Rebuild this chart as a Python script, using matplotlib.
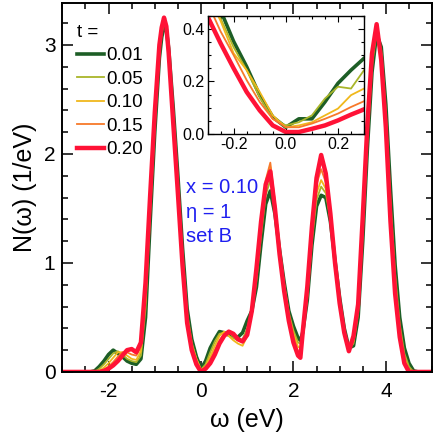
import numpy as np
import matplotlib
matplotlib.use('Agg')
import matplotlib.pyplot as plt

plt.rcParams['font.family'] = ['Liberation Sans', 'DejaVu Sans']
plt.rcParams['axes.unicode_minus'] = False

# energy grid (eV) for the main panel
omega = [-3.0, -2.4, -2.3, -2.2, -2.1, -2.0, -1.9, -1.8, -1.7, -1.6, -1.5, -1.4, -1.3, -1.2,
         -1.1, -1.0, -0.9, -0.85, -0.8, -0.75, -0.7, -0.6, -0.5, -0.4, -0.3, -0.2, -0.1,
         0.0, 0.1, 0.2, 0.3, 0.4, 0.5, 0.6, 0.7, 0.8, 0.9, 1.0, 1.1, 1.2, 1.3, 1.4, 1.5,
         1.6, 1.7, 1.8, 1.9, 2.0, 2.1, 2.15, 2.2, 2.3, 2.4, 2.5, 2.6, 2.7, 2.8, 2.9, 3.0,
         3.1, 3.2, 3.3, 3.4, 3.5, 3.6, 3.7, 3.8, 3.9, 4.0, 4.1, 4.2, 4.3, 4.4, 4.5, 4.6,
         4.7, 5.0]

# density of states N(w) for each t
dos_001 = [0.0, 0.0, 0.01, 0.05, 0.10, 0.16, 0.20, 0.17, 0.14, 0.10, 0.08, 0.07, 0.12, 0.50,
           1.38, 2.20, 2.88, 3.07, 3.17, 3.14, 2.97, 2.42, 1.80, 1.14, 0.58, 0.30, 0.14,
           0.03, 0.10, 0.22, 0.30, 0.37, 0.36, 0.34, 0.33, 0.32, 0.36, 0.47, 0.56, 0.78,
           1.18, 1.54, 1.66, 1.45, 1.12, 0.82, 0.56, 0.42, 0.31, 0.29, 0.36, 0.66, 1.16,
           1.52, 1.62, 1.60, 1.38, 1.02, 0.68, 0.40, 0.22, 0.24, 0.50, 1.20, 2.05, 2.75,
           3.10, 2.98, 2.45, 1.68, 0.98, 0.50, 0.22, 0.08, 0.01, 0.0, 0.0]
dos_005 = [0.0, 0.0, 0.0, 0.03, 0.07, 0.12, 0.17, 0.19, 0.16, 0.12, 0.10, 0.09, 0.15, 0.58,
           1.45, 2.26, 2.93, 3.11, 3.20, 3.15, 2.96, 2.38, 1.75, 1.08, 0.54, 0.27, 0.12,
           0.02, 0.07, 0.18, 0.28, 0.35, 0.36, 0.33, 0.31, 0.29, 0.30, 0.40, 0.55, 0.84,
           1.25, 1.62, 1.76, 1.50, 1.12, 0.80, 0.54, 0.38, 0.27, 0.26, 0.36, 0.68, 1.20,
           1.58, 1.70, 1.64, 1.40, 1.00, 0.66, 0.38, 0.21, 0.26, 0.54, 1.28, 2.12, 2.80,
           3.13, 2.95, 2.38, 1.58, 0.90, 0.44, 0.17, 0.05, 0.0, 0.0, 0.0]
dos_010 = [0.0, 0.0, 0.0, 0.01, 0.04, 0.08, 0.13, 0.18, 0.18, 0.15, 0.12, 0.11, 0.19, 0.66,
           1.52, 2.31, 2.97, 3.14, 3.22, 3.16, 2.95, 2.34, 1.70, 1.04, 0.50, 0.25, 0.12,
           0.02, 0.05, 0.14, 0.24, 0.33, 0.37, 0.33, 0.29, 0.26, 0.24, 0.33, 0.54, 0.88,
           1.32, 1.72, 1.88, 1.56, 1.14, 0.80, 0.52, 0.35, 0.23, 0.22, 0.34, 0.70, 1.24,
           1.64, 1.76, 1.68, 1.40, 0.99, 0.64, 0.36, 0.20, 0.28, 0.57, 1.33, 2.18, 2.85,
           3.15, 2.92, 2.32, 1.50, 0.82, 0.38, 0.13, 0.02, 0.0, 0.0, 0.0]
dos_015 = [0.0, 0.0, 0.0, 0.0, 0.02, 0.05, 0.09, 0.14, 0.18, 0.18, 0.16, 0.15, 0.23, 0.74,
           1.57, 2.35, 2.99, 3.16, 3.24, 3.17, 2.94, 2.31, 1.67, 1.01, 0.47, 0.22, 0.10,
           0.01, 0.04, 0.11, 0.20, 0.29, 0.35, 0.36, 0.33, 0.29, 0.27, 0.33, 0.55, 0.92,
           1.36, 1.76, 1.92, 1.56, 1.12, 0.77, 0.49, 0.31, 0.19, 0.18, 0.34, 0.74, 1.29,
           1.72, 1.86, 1.74, 1.40, 0.98, 0.63, 0.35, 0.19, 0.30, 0.60, 1.38, 2.22, 2.89,
           3.17, 2.89, 2.28, 1.44, 0.77, 0.35, 0.10, 0.01, 0.0, 0.0, 0.0]
dos_020 = [0.0, 0.0, 0.0, 0.0, 0.01, 0.03, 0.06, 0.10, 0.15, 0.20, 0.21, 0.18, 0.27, 0.82,
           1.62, 2.38, 3.00, 3.16, 3.25, 3.17, 2.93, 2.28, 1.64, 0.98, 0.45, 0.20, 0.07,
           0.0, 0.03, 0.08, 0.16, 0.26, 0.33, 0.37, 0.35, 0.30, 0.28, 0.34, 0.56, 0.95,
           1.38, 1.72, 1.84, 1.50, 1.08, 0.74, 0.47, 0.27, 0.15, 0.13, 0.36, 0.78, 1.33,
           1.78, 1.99, 1.82, 1.45, 1.00, 0.63, 0.36, 0.19, 0.33, 0.62, 1.42, 2.27, 2.92,
           3.19, 2.86, 2.24, 1.38, 0.72, 0.32, 0.08, 0.0, 0.0, 0.0, 0.0]

# inset: zoom around the Fermi level
omega_in = [-0.3, -0.25, -0.2, -0.15, -0.1, -0.05, 0.0, 0.05, 0.1, 0.15, 0.2, 0.25, 0.3]
ins_001 = [0.58, 0.47, 0.352, 0.256, 0.147, 0.065, 0.026, 0.058, 0.058, 0.122, 0.193, 0.243, 0.288]
ins_005 = [0.55, 0.44, 0.33, 0.243, 0.14, 0.058, 0.033, 0.045, 0.071, 0.135, 0.18, 0.173, 0.243]
ins_010 = [0.53, 0.43, 0.307, 0.243, 0.16, 0.071, 0.026, 0.033, 0.045, 0.071, 0.097, 0.148, 0.173]
ins_015 = [0.50, 0.39, 0.30, 0.205, 0.122, 0.058, 0.026, 0.026, 0.04, 0.058, 0.078, 0.103, 0.125]
ins_020 = [0.447, 0.345, 0.25, 0.16, 0.09, 0.033, 0.008, 0.008, 0.02, 0.033, 0.052, 0.074, 0.094]

labels = ['0.01', '0.05', '0.10', '0.15', '0.20']
colors = ['#1d5e26', '#a9b52a', '#f0b81c', '#f7792a', '#ff1236']
widths = [2.6, 1.3, 1.3, 1.3, 3.2]

main_sets = [dos_001, dos_005, dos_010, dos_015, dos_020]
inset_sets = [ins_001, ins_005, ins_010, ins_015, ins_020]

fig = plt.figure(figsize=(4.36, 4.34), dpi=100)
ax = fig.add_axes([0.143, 0.143, 0.848, 0.849])

for y, lab, c, lw in zip(main_sets, labels, colors, widths):
    ax.plot(omega, y, color=c, lw=lw, label=lab, solid_joinstyle='round')

ax.set_xlim(-3, 5)
ax.set_ylim(0, 3.38)
ax.set_xticks([-2, 0, 2, 4])
ax.set_yticks([0, 1, 2, 3])
ax.set_xticks(np.arange(-3, 5.01, 0.5), minor=True)
ax.set_yticks(np.arange(0, 3.38, 0.2), minor=True)
ax.tick_params(which='both', direction='in', top=True, right=True, labelsize=15, width=1.1)
ax.tick_params(which='major', length=8, pad=5)
ax.tick_params(axis='x', which='major', pad=7)
ax.tick_params(which='minor', length=4.5)
for s in ax.spines.values():
    s.set_linewidth(1.4)
ax.set_xlabel('ω (eV)', fontsize=18, labelpad=5)
ax.set_ylabel('N(ω) (1/eV)', fontsize=18, labelpad=5)

leg = ax.legend(loc='upper left', bbox_to_anchor=(0.03, 0.955), title='t =', frameon=False,
                fontsize=13.5, title_fontsize=13.5, handlelength=1.45, handletextpad=0.1,
                labelspacing=0.34, borderaxespad=0, alignment='left', borderpad=0.2)

ax.text(-0.32, 1.64, 'x = 0.10', color='#1f1ff0', fontsize=14.5)
ax.text(-0.32, 1.41, 'η = 1', color='#1f1ff0', fontsize=14.5)
ax.text(-0.32, 1.19, 'set B', color='#1f1ff0', fontsize=14.5)

# inset
axi = fig.add_axes([0.476, 0.691, 0.359, 0.273])
for y, c, lw in zip(inset_sets, colors, widths):
    axi.plot(omega_in, y, color=c, lw=lw, solid_joinstyle='round')
axi.set_xlim(-0.3, 0.3)
axi.set_ylim(0, 0.45)
axi.set_xticks([-0.2, 0.0, 0.2])
axi.set_yticks([0.0, 0.2, 0.4])
axi.set_xticks(np.arange(-0.3, 0.301, 0.05), minor=True)
axi.set_yticks(np.arange(0, 0.451, 0.05), minor=True)
axi.xaxis.set_major_formatter('{x:.1f}')
axi.yaxis.set_major_formatter('{x:.1f}')
axi.tick_params(which='both', direction='in', top=True, right=True, labelsize=11.5, width=0.8, pad=2)
axi.tick_params(which='major', length=4)
axi.tick_params(which='minor', length=2.5)
for s in axi.spines.values():
    s.set_linewidth(1.0)

fig.savefig('out.png', dpi=100)
